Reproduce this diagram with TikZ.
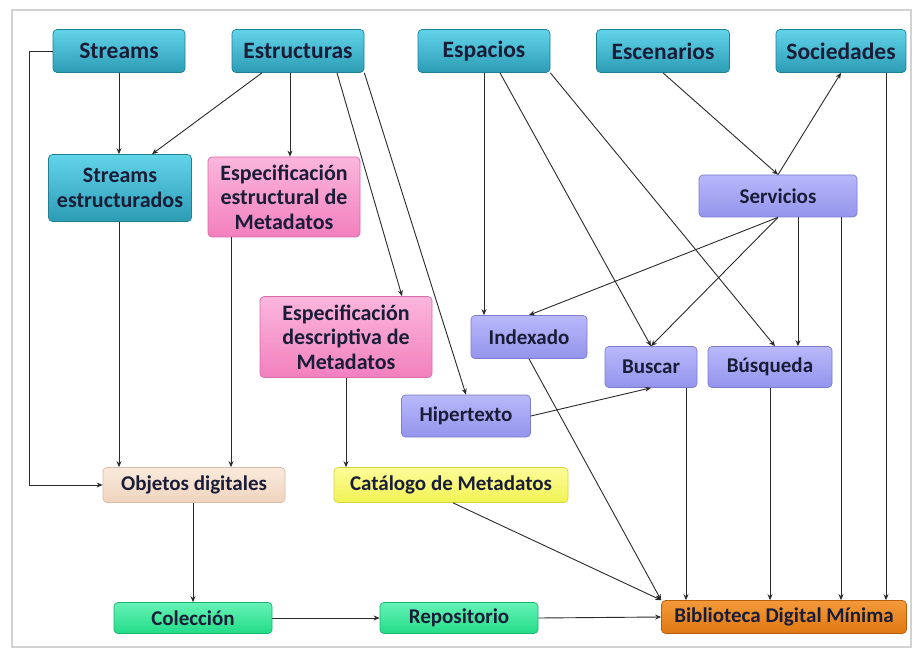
\documentclass[tikz,border=0pt]{standalone}
\usepackage{fontspec}
\setmainfont{Carlito}
\usetikzlibrary{arrows.meta,calc}
\definecolor{txt}{HTML}{1A1D38}
\definecolor{lnc}{HTML}{2A2A2A}
\begin{document}
\begin{tikzpicture}[x=1pt,y=-1pt,
  box/.style={rounded corners=4pt, line width=0.7pt, inner sep=1pt, align=center,
    font=\bfseries\fontsize{21}{24}\selectfont, text=txt},
  bigtext/.style={font=\bfseries\fontsize{23.5}{26}\selectfont},
  midtext/.style={font=\bfseries\fontsize{22}{24.5}\selectfont},
  tealbox/.style={box, top color=teal1, bottom color=teal2, draw=teal3},
  pinkbox/.style={box, top color=pink1, bottom color=pink2, draw=pink3},
  lavbox/.style={box, top color=lav1, bottom color=lav2, draw=lav3},
  peachbox/.style={box, top color=peach1, bottom color=peach2, draw=peach3},
  yelbox/.style={box, top color=yel1, bottom color=yel2, draw=yel3},
  grnbox/.style={box, top color=grn1, bottom color=grn2, draw=grn3},
  orgbox/.style={box, top color=org1, bottom color=org2, draw=org3},
  arr/.style={draw=lnc, line width=0.9pt, -{Stealth[length=6pt,width=5pt]}}
]
\definecolor{teal1}{HTML}{62D4EA}\definecolor{teal2}{HTML}{2C9CB4}\definecolor{teal3}{HTML}{1F7F94}
\definecolor{pink1}{HTML}{FBB6DC}\definecolor{pink2}{HTML}{F280BE}\definecolor{pink3}{HTML}{D96CA8}
\definecolor{lav1}{HTML}{B8B8FB}\definecolor{lav2}{HTML}{9494EC}\definecolor{lav3}{HTML}{7C7CD0}
\definecolor{peach1}{HTML}{FAEADC}\definecolor{peach2}{HTML}{EFD4BE}\definecolor{peach3}{HTML}{D8BCA4}
\definecolor{yel1}{HTML}{FCFC9A}\definecolor{yel2}{HTML}{F2F254}\definecolor{yel3}{HTML}{D4D43C}
\definecolor{grn1}{HTML}{66F2B6}\definecolor{grn2}{HTML}{22DC88}\definecolor{grn3}{HTML}{18B46E}
\definecolor{org1}{HTML}{F39A3A}\definecolor{org2}{HTML}{E07812}\definecolor{org3}{HTML}{B85E0A}

\useasboundingbox (0,0) rectangle (914,650);
\fill[white] (0,0) rectangle (914,650);
\draw[gray!35, line width=2pt] (12,10) rectangle (911,647);

% top row
\node[tealbox, bigtext, minimum width=132pt, minimum height=43pt] (Streams) at (119,51) {Streams};
\node[tealbox, bigtext, minimum width=132pt, minimum height=43pt] (Estructuras) at (298,51) {Estructuras};
\node[tealbox, bigtext, minimum width=132pt, minimum height=43pt] (Espacios) at (484,51) {Espacios};
\node[tealbox, bigtext, minimum width=133pt, minimum height=43pt] (Escenarios) at (663,51) {Escenarios};
\node[tealbox, bigtext, minimum width=130pt, minimum height=43pt] (Sociedades) at (841,51) {Sociedades};

% second level
\node[tealbox, midtext, minimum width=143pt, minimum height=67pt] (StrEst) at (120,188) {Streams\\estructurados};
\node[pinkbox, midtext, minimum width=152pt, minimum height=80pt] (EspEst) at (284,197) {Especificación\\estructural de\\Metadatos};
\node[lavbox, minimum width=158pt, minimum height=42pt] (Servicios) at (778,196) {Servicios};

\node[pinkbox, midtext, minimum width=172pt, minimum height=81pt] (EspDesc) at (346,337) {Especificación\\descriptiva de\\Metadatos};
\node[lavbox, minimum width=116pt, minimum height=43pt] (Indexado) at (529,337) {Indexado};
\node[lavbox, minimum width=92pt, minimum height=41pt] (Buscar) at (651,367) {Buscar};
\node[lavbox, minimum width=124pt, minimum height=41pt] (Busqueda) at (770,367) {Búsqueda};
\node[lavbox, minimum width=129pt, minimum height=42pt] (Hipertexto) at (466,416) {Hipertexto};

\node[peachbox, minimum width=182pt, minimum height=35pt] (Objetos) at (194,485) {Objetos digitales};
\node[yelbox, minimum width=234pt, minimum height=35pt] (Catalogo) at (451,485) {Catálogo de Metadatos};

\node[grnbox, minimum width=158pt, minimum height=31pt] (Coleccion) at (193,618) {Colección};
\node[grnbox, minimum width=158pt, minimum height=31pt] (Repositorio) at (459,618) {Repositorio};
\node[orgbox, minimum width=245pt, minimum height=33pt] (Biblioteca) at (784,617) {Biblioteca Digital Mínima};

% connectors
\draw[arr] (Streams.west) -- ++(-23,0) |- (Objetos.west);
\draw[arr] (Streams.south) -- (Streams.south |- StrEst.north);
\draw[arr] ([xshift=-36pt]Estructuras.south) -- ([xshift=32pt]StrEst.north);
\draw[arr] ([xshift=-8pt]Estructuras.south) -- ([xshift=6pt]EspEst.north);
\draw[arr] ([xshift=39pt]Estructuras.south) -- ([xshift=56pt]EspDesc.north);
\draw[arr] (Estructuras.south east) -- (Hipertexto.north);
\draw[arr] ([xshift=-1pt]StrEst.south) -- ([xshift=-75pt]Objetos.north);
\draw[arr] ([xshift=-53pt]EspEst.south) -- ([xshift=37pt]Objetos.north);
\draw[arr] (EspDesc.south) -- ([xshift=-105pt]Catalogo.north);
\draw[arr] ([xshift=-1pt]Objetos.south) -- (Coleccion.north);
\draw[arr] (Coleccion.east) -- (Repositorio.west);
\draw[arr] (Repositorio.east) -- (Biblioteca.west);

\draw[arr] (Espacios.south) -- ([xshift=-45pt]Indexado.north);
\draw[arr] ([xshift=16pt]Espacios.south) -- (Buscar.north);
\draw[arr] (Espacios.south east) -- ([xshift=5pt]Busqueda.north);
\draw[arr] (Escenarios.south) -- (Servicios.north);
\draw[arr] (Servicios.north) -- (Sociedades.south);
\draw[arr] (Servicios.south) -- (Indexado.north);
\draw[arr] (Servicios.south) -- (Buscar.north);
\draw[arr] ([xshift=20pt]Servicios.south) -- ([xshift=28pt]Busqueda.north);
\draw[arr] ([xshift=63pt]Servicios.south) -- ([xshift=57pt]Biblioteca.north);
\draw[arr] ([xshift=45pt]Sociedades.south) -- ([xshift=102pt]Biblioteca.north);
\draw[arr] (Hipertexto.east) -- (Buscar.south);
\draw[arr] (Indexado.south) -- (Biblioteca.north west);
\draw[arr] ([xshift=2pt]Catalogo.south) -- (Biblioteca.north west);
\draw[arr] ([xshift=35pt]Buscar.south) -- ([xshift=-98pt]Biblioteca.north);
\draw[arr] (Busqueda.south) -- ([xshift=-14pt]Biblioteca.north);
\end{tikzpicture}
\end{document}
